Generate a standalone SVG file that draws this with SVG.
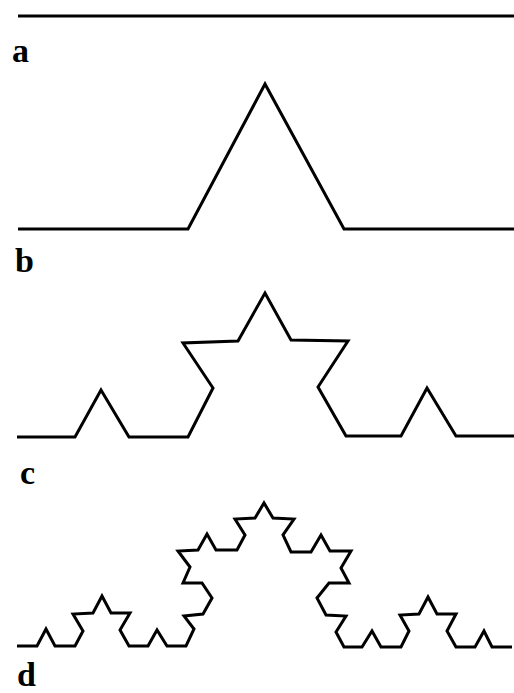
<svg xmlns="http://www.w3.org/2000/svg" width="514" height="693" viewBox="0 0 514 693">
<style>
.curve{fill:none;stroke:#000;stroke-width:3;stroke-linejoin:miter;stroke-linecap:butt}
.lbl{font-family:"Liberation Serif","Times New Roman",serif;font-weight:bold;font-size:34px;fill:#000}
</style>
<rect width="514" height="693" fill="#fff"/>
<g id="curve-a">
<path class="curve" d="M18 16 L514 16"/>
<text class="lbl" x="12" y="62">a</text>
</g>
<g id="curve-b">
<path class="curve" d="M18 229 L188 229 L265 84 L344 229 L514 229"/>
<text class="lbl" x="15" y="272">b</text>
</g>
<g id="curve-c">
<path class="curve" d="M17 437 L75 437 L101 390 L129 437 L188 437 L213 388 L183 343 L238 341 L265 293 L291 340 L348 341 L318 387 L346 436 L401 436 L427 388 L456 436 L514 436"/>
<text class="lbl" x="20" y="484">c</text>
</g>
<g id="curve-d">
<path class="curve" d="M17 646 L37 646 L46 629 L55 646 L75 646 L83 631 L73 614 L93 613 L102 596 L111 613 L130 613 L120 630 L129 646 L148 646 L157 630 L167 646 L186 646 L194 629 L184 616 L203 614 L212 598 L202 583 L183 583 L190 567 L178 551 L198 550 L207 534 L216 550 L237 550 L245 535 L235 519 L255 518 L264 503 L273 518 L294 519 L283 535 L291 552 L311 552 L321 535 L330 551 L351 551 L341 568 L349 583 L329 583 L317 598 L326 615 L346 616 L336 632 L344 647 L362 647 L372 631 L381 647 L401 647 L409 631 L400 615 L419 614 L428 597 L437 614 L456 614 L447 631 L456 647 L475 647 L484 631 L492 647 L512 647"/>
<text class="lbl" x="17" y="686">d</text>
</g>
</svg>
